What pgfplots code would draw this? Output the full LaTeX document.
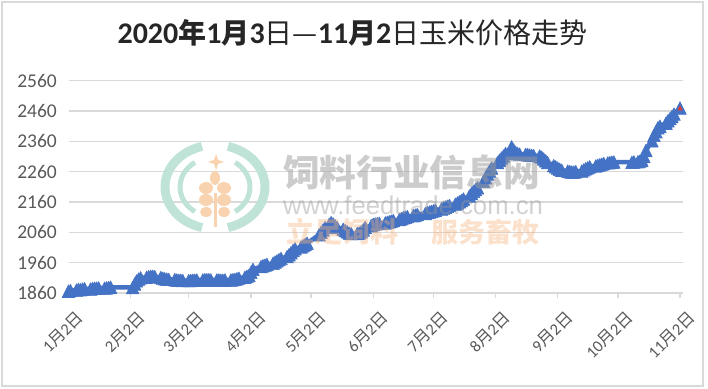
\documentclass[border=0pt]{standalone}
\usepackage{pgfplots}
\pgfplotsset{compat=1.18}
\usepackage{fontspec}
\usepackage{graphicx}
\setmainfont{Carlito}
\newfontfamily\cjk{Noto Sans CJK SC}
\newfontfamily\arialw{Liberation Sans}
\newcommand\yue{{\cjk 月}}
\newcommand\ri{{\cjk 日}}
\newcommand\xl[1]{{\fontsize{16.5}{17}\selectfont #1\yue 2\ri}}
\newcommand\yl[1]{{\fontsize{19.5}{21}\selectfont #1}}
\definecolor{serblue}{HTML}{4472C4}
\definecolor{gridgray}{HTML}{D9D9D9}
\definecolor{labgray}{HTML}{595959}
\definecolor{titlegray}{HTML}{262626}
\definecolor{wmgray}{HTML}{9A9A9A}
\definecolor{wmorange}{HTML}{F5B57E}
\definecolor{wmteal}{HTML}{BFE3D6}
\definecolor{wmwheat}{HTML}{F9D3AF}
\definecolor{redmk}{HTML}{E03C31}
\pgfdeclareplotmark{xltri}{%
  \pgfpathmoveto{\pgfqpoint{0pt}{\pgfplotmarksize}}%
  \pgfpathlineto{\pgfqpoint{-\pgfplotmarksize}{-\pgfplotmarksize}}%
  \pgfpathlineto{\pgfqpoint{\pgfplotmarksize}{-\pgfplotmarksize}}%
  \pgfpathclose
  \pgfusepathqfillstroke}
\begin{document}
\begin{tikzpicture}[x=1pt,y=1pt]
\path[use as bounding box] (0,0) rectangle (708,388);
\draw[gridgray, line width=2pt] (2,2) rectangle (703,386);
\node[text=titlegray, inner sep=0pt] at (352.5,355.5) {\fontsize{30}{32}\selectfont\bfseries 2020{\cjk\fontsize{28}{30}\selectfont 年}1{\cjk\fontsize{28}{30}\selectfont 月}3{\cjk\mdseries\fontsize{28}{30}\selectfont 日—}11{\cjk\fontsize{28}{30}\selectfont 月}2{\cjk\mdseries\fontsize{28}{30}\selectfont 日玉米价格走势}};
\begin{axis}[
  at={(68.5pt,95pt)}, anchor=south west,
  scale only axis, width=614.5pt, height=212.3pt,
  xmin=1, xmax=307.5, ymin=1860, ymax=2560,
  clip=false,
  axis x line*=bottom, axis y line*=left,
  y axis line style={draw=none},
  x axis line style={draw=gridgray, line width=1.3pt},
  tick align=outside, major tick length=5pt,
  xtick style={draw=gridgray, line width=1.3pt},
  ytick style={draw=none},
  ymajorgrids, grid style={draw=gridgray, line width=1.3pt},
  ytick={1860,1960,2060,2160,2260,2360,2460,2560},
  yticklabels={\yl{1860},\yl{1960},\yl{2060},\yl{2160},\yl{2260},\yl{2360},\yl{2460},\yl{2560}},
  yticklabel style={text=labgray, anchor=east, inner sep=0pt, xshift=-6.5pt},
  xtick={1,32,61,92,122,153,183,214,245,275,306},
  xticklabels={\xl{1},\xl{2},\xl{3},\xl{4},\xl{5},\xl{6},\xl{7},\xl{8},\xl{9},\xl{10},\xl{11}},
  xticklabel style={text=labgray, rotate=45, anchor=east, inner sep=0pt, xshift=-3pt, yshift=-20pt},
]
\addplot[serblue, line width=4.5pt, line join=round, mark=xltri, mark size=6.3pt, mark options={solid, fill=serblue, draw=serblue, line width=0.6pt}] coordinates {
(1,1866)(2,1868)(5,1870)(6,1872)(7,1871)(8,1873)(9,1874)(12,1873)(13,1875)(14,1876)(15,1876)(16,1877)(19,1876)(20,1877)(21,1878)(22,1879)
(33,1878)(34,1890)(35,1900)(36,1906)(37,1910)(40,1912)(41,1914)(42,1915)(43,1915)(44,1914)(47,1911)(48,1909)(49,1907)(50,1906)(51,1905)(54,1904)(55,1903)(56,1902)(57,1902)(58,1901)
(61,1901)(62,1901)(63,1902)(64,1902)(65,1903)(68,1903)(69,1904)(70,1904)(71,1904)(72,1903)(75,1903)(76,1903)(77,1902)(78,1902)(79,1903)(82,1903)(83,1904)(84,1905)(85,1907)(86,1909)(89,1912)(90,1915)
(91,1918)(92,1928)(93,1938)(97,1947)(98,1950)(99,1952)(100,1954)(103,1958)(104,1962)(105,1966)(106,1970)(107,1974)(110,1980)(111,1986)(112,1993)(113,2000)(114,2006)(117,2012)(118,2016)(119,2020)(120,2024)
(126,2052)(127,2060)(128,2068)(129,2076)(131,2086)(132,2092)(133,2088)(134,2082)(135,2076)(138,2070)(139,2066)(140,2062)(141,2058)(142,2056)(145,2056)(146,2058)(147,2062)(148,2068)(149,2076)
(152,2082)(153,2086)(154,2088)(155,2089)(156,2090)(159,2091)(160,2093)(161,2095)(162,2097)(163,2099)(166,2102)(167,2105)(168,2108)(169,2110)(170,2112)(173,2115)(174,2117)(175,2119)(179,2122)(180,2125)(181,2127)
(182,2129)(183,2131)(184,2133)(187,2137)(188,2140)(189,2143)(190,2146)(191,2149)(194,2153)(195,2157)(196,2161)(197,2165)(198,2170)(201,2180)(202,2188)(203,2195)(204,2201)(205,2207)(208,2228)(209,2240)(210,2252)(211,2262)(212,2272)
(215,2290)(216,2298)(217,2305)(218,2312)(219,2320)(222,2342)(223,2332)(224,2324)(225,2320)(226,2318)(229,2317)(230,2316)(231,2315)(232,2314)(233,2313)(236,2312)(237,2308)(238,2302)(239,2296)(240,2290)(243,2280)
(244,2276)(245,2272)(246,2268)(247,2265)(250,2262)(251,2260)(252,2259)(253,2259)(254,2260)(257,2262)(258,2266)(259,2270)(260,2273)(261,2276)(264,2279)(265,2281)(266,2283)(267,2285)(268,2287)(270,2289)(271,2290)(272,2291)(273,2292)
(282,2291)(283,2292)(285,2293)(286,2295)(287,2298)(288,2310)(289,2330)(292,2362)(293,2380)(294,2392)(295,2405)(296,2410)(299,2420)(300,2428)(301,2435)(302,2442)(303,2450)(306,2470)
};
\addplot[draw=none, mark=xltri, mark size=2.2pt, mark options={fill=redmk, draw=redmk, line width=0.3pt}] coordinates {(306,2470)};
\end{axis}
% watermark logo
\draw[wmteal, line width=9pt] (215,201) ++(105:50 and 42) arc[start angle=105, end angle=255, x radius=50, y radius=42];
\draw[wmteal, line width=9pt] (215,201) ++(-75:50 and 42) arc[start angle=-75, end angle=75, x radius=50, y radius=42];
\draw[wmteal, line width=5pt] (215,201) ++(125:35 and 30) arc[start angle=125, end angle=235, x radius=35, y radius=30];
\draw[wmteal, line width=5pt] (215,201) ++(-55:35 and 30) arc[start angle=-55, end angle=55, x radius=35, y radius=30];
\fill[wmwheat] (213.5,161) rectangle (216.5,195);
\fill[wmwheat] (215,210) ellipse (5 and 7);
\fill[wmwheat] (206,200) ellipse (7 and 6);
\fill[wmwheat] (224,200) ellipse (7 and 6);
\fill[wmwheat] (206,188) ellipse (7 and 6);
\fill[wmwheat] (224,188) ellipse (7 and 6);
\fill[wmwheat] (206,176) ellipse (6 and 5);
\fill[wmwheat] (224,176) ellipse (6 and 5);
\fill[wmwheat] (216,234) -- (218,228) -- (224,226) -- (218,224) -- (216,218) -- (214,224) -- (208,226) -- (214,228) -- cycle;
% watermark text
\node[text=wmgray, opacity=0.5, inner sep=0pt, anchor=center] at (411.5,216) {\resizebox{257pt}{!}{\cjk\bfseries 饲料行业信息网}};
\node[text=wmgray, opacity=0.45, inner sep=0pt, anchor=center] at (413,183) {\resizebox{260pt}{!}{\arialw www.feedtrade.com.cn}};
\node[text=wmorange, opacity=0.4, inner sep=0pt, anchor=center] at (342,156) {\resizebox{112pt}{!}{\cjk\bfseries 立足饲料}};
\node[text=wmorange, opacity=0.4, inner sep=0pt, anchor=center] at (485,156) {\resizebox{108pt}{!}{\cjk\bfseries 服务畜牧}};
\end{tikzpicture}
\end{document}
